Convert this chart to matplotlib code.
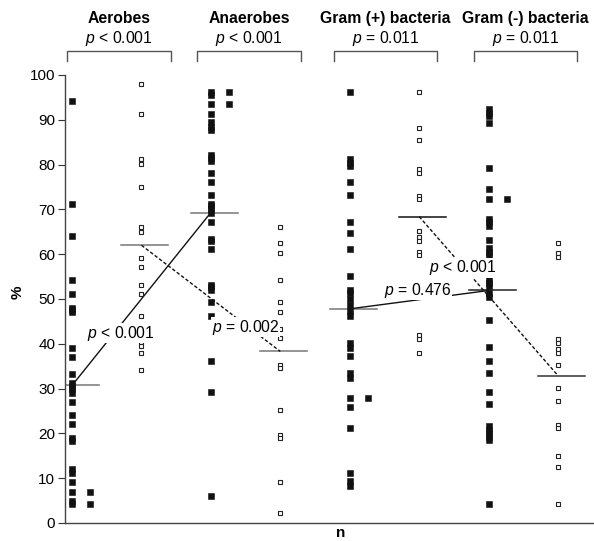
# LIBRARIES IMPORT

import matplotlib
matplotlib.use('Agg')
import matplotlib.pyplot as plt

plt.rcParams['font.family'] = ['Liberation Sans', 'DejaVu Sans']
plt.rcParams['mathtext.fontset'] = 'custom'
plt.rcParams['mathtext.it'] = 'Liberation Sans:italic'
plt.rcParams['mathtext.rm'] = 'Liberation Sans'

# DATA (in %)

groups = ['Aerobes', 'Anaerobes', 'Gram (+) bacteria', 'Gram (-) bacteria']
group_p = ['< 0.001', '< 0.001', '= 0.011', '= 0.011']

aer_filled = [94.3, 71.2, 64.1, 54.2, 51.1, 48.1, 47.6, 47.1, 39.1, 37.1, 33.2, 31.3,
              30.5, 29.8, 29.0, 27.1, 24.2, 22.2, 19.0, 18.2, 12.1, 11.2, 9.1, 7.0, 5.0, 4.2]
aer_filled_side = [7.0, 4.2]
aer_open = [98.0, 91.2, 81.2, 80.1, 75.0, 66.1, 65.0, 59.1, 57.1, 53.1, 51.1, 46.1,
            40.5, 39.5, 38.0, 34.2]

ana_filled = [96.2, 95.6, 93.5, 91.4, 89.5, 88.5, 87.8, 82.2, 81.5, 80.9, 78.1, 76.1,
              73.2, 71.3, 70.7, 70.1, 69.3, 67.2, 63.4, 62.9, 61.2, 53.2, 52.6, 52.1,
              49.3, 46.1, 36.1, 29.2, 6.1]
ana_filled_side = [96.2, 93.5]
ana_open = [66.1, 62.4, 60.3, 54.3, 49.3, 47.2, 43.3, 41.3, 35.3, 34.6, 25.3, 19.7,
            19.0, 9.1, 2.2]

gp_filled = [96.2, 81.2, 80.4, 79.6, 76.1, 73.3, 67.1, 64.7, 61.2, 55.1, 52.1, 51.3,
             50.0, 48.6, 47.4, 46.3, 40.2, 39.1, 37.2, 33.5, 32.4, 27.9, 26.0, 21.2,
             11.2, 9.3, 8.2]
gp_filled_side = [28.0]
gp_open = [96.1, 88.2, 85.4, 79.0, 78.1, 73.0, 72.3, 65.1, 63.8, 62.9, 60.6, 59.9,
           42.0, 41.0, 38.0]

gn_filled = [92.3, 91.5, 90.8, 89.3, 79.2, 74.6, 72.3, 67.9, 67.1, 66.4, 63.2, 61.4,
             60.6, 59.9, 54.3, 53.6, 52.8, 51.3, 50.4, 45.4, 39.3, 36.1, 33.5, 29.2,
             26.6, 21.6, 20.8, 20.1, 19.3, 18.6, 4.3]
gn_filled_side = [72.3]
gn_open = [62.4, 60.3, 59.4, 41.1, 40.2, 38.8, 37.9, 35.3, 30.1, 27.2, 21.9, 21.2,
           15.0, 12.5, 4.3]

# group mean lines (filled, open) per group
means = [30.7, 62.0, 69.3, 38.3, 47.8, 68.4, 51.9, 32.9]

# comparisons between columns: (from col, to col, label, style)
links = [(0, 2, '< 0.001', '-'), (1, 3, '= 0.002', '--'),
         (4, 6, '= 0.476', '-'), (5, 7, '< 0.001', '--')]
link_label_pos = [(1.71, 42.4), (3.50, 43.7), (5.98, 52.0), (6.63, 57.0)]

# FIGURE

fig = plt.figure(figsize=(5.94, 5.41), dpi=100)
ax = fig.add_axes([65 / 594, 1 - 523 / 541, 1 - 65 / 594, (523 - 75) / 541])

cols = [aer_filled, aer_open, ana_filled, ana_open, gp_filled, gp_open, gn_filled, gn_open]
sides = [aer_filled_side, ana_filled_side, gp_filled_side, gn_filled_side]
px = 69.43  # pixels per column step

for i, vals in enumerate(cols):
    x = i + 1
    if i % 2 == 0:
        ax.plot([x] * len(vals), vals, 's', color='#111111', ms=3.7, mew=0.4, lw=0, zorder=3)
        side = sides[i // 2]
        ax.plot([x + 18 / px] * len(side), side, 's', color='#111111', ms=3.7, mew=0.4,
                lw=0, zorder=3)
    else:
        ax.plot([x] * len(vals), vals, 's', mfc='white', mec='#222222', mew=0.8, ms=3.4,
                lw=0, zorder=3)

# mean lines
mean_colors = ['#777777'] * 5 + ['#111111', '#222222', '#333333']
for i, m in enumerate(means):
    x = i + 1
    ax.plot([x - 20 / px, x + 27 / px], [m, m], color=mean_colors[i], lw=1.1, zorder=2)

# connecting lines with p labels
for (a, b, lab, style), (tx, ty) in zip(links, link_label_pos):
    ax.plot([a + 1, b + 1], [means[a], means[b]], style, color='#111111', lw=1.0,
            dashes=(2.5, 1.5) if style == '--' else (None, None), zorder=2)
    ax.text(tx, ty, r'$\it{p}$' + ' ' + lab, ha='center', va='center', fontsize=11.3,
            bbox=dict(facecolor='white', edgecolor='none', pad=0.3), zorder=4)

# brackets and headers
bracket_px = [(67, 171), (197, 301), (334, 437), (474, 577)]
for g, (x0, x1), p in zip(groups, bracket_px, group_p):
    d0 = 1 + (x0 - 72) / px
    d1 = 1 + (x1 - 72) / px
    ax.plot([d0, d0, d1, d1], [103.1, 105.3, 105.3, 103.1], color='#555555', lw=1.0,
            clip_on=False)
    xc = (d0 + d1) / 2
    ax.text(xc, 112.7, g, ha='center', va='center', fontsize=11.3, fontweight='bold')
    ax.text(xc, 108.2, r'$\it{p}$' + ' ' + p, ha='center', va='center', fontsize=11.3)

ax.set_xlim(1 - 7 / px, 1 + (594 - 72) / px)
ax.set_ylim(0, 100)
ax.set_yticks(range(0, 101, 10))
ax.set_xticks([])
ax.tick_params(axis='y', labelsize=11, length=5, width=0.8, color='#333333', pad=2)
for s in ['top', 'right']:
    ax.spines[s].set_visible(False)
for s in ['left', 'bottom']:
    ax.spines[s].set_color('#444444')
    ax.spines[s].set_linewidth(1.0)

fig.text(18 / 594, 1 - 292 / 541, '%', rotation=90, ha='center', va='center',
         fontsize=11, fontweight='bold')
fig.text(341 / 594, 1 - 533 / 541, 'n', ha='center', va='center', fontsize=11,
         fontweight='bold')

fig.savefig('out.png', dpi=100)
